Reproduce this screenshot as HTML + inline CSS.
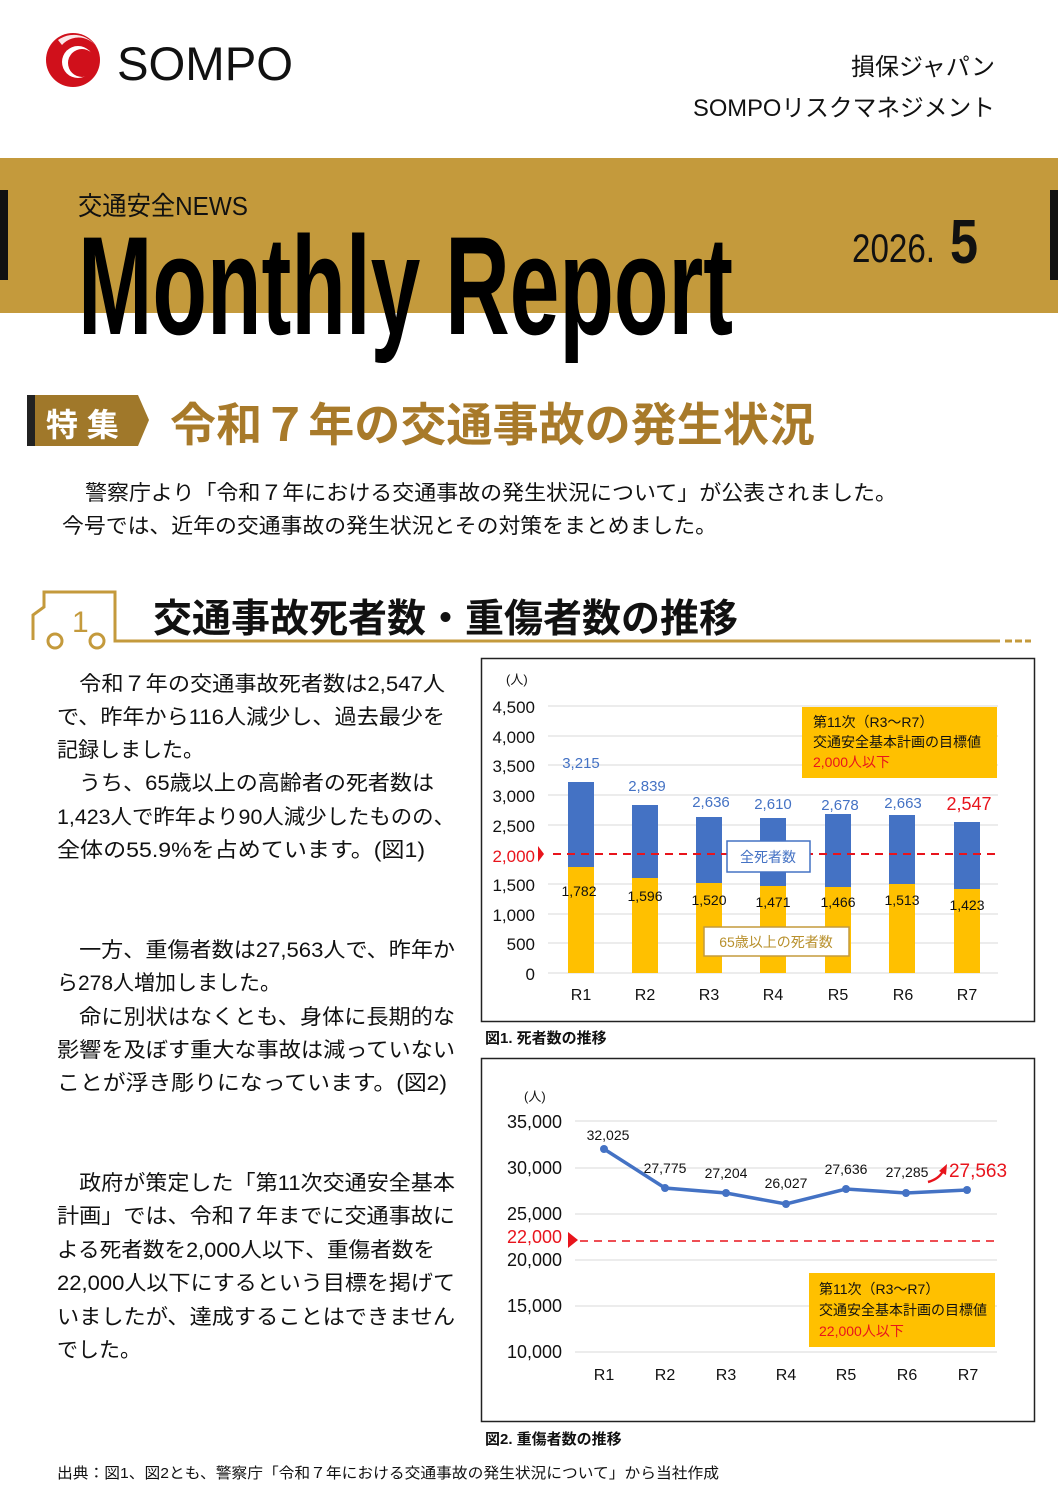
<!DOCTYPE html>
<html><head><meta charset="utf-8"><style>
html,body{margin:0;padding:0;background:#fff;}
svg{display:block;}
text{font-family:"Liberation Sans","Noto Sans CJK JP",sans-serif;}
</style></head><body>
<svg width="1058" height="1497" viewBox="0 0 1058 1497" xmlns="http://www.w3.org/2000/svg">
<!-- header -->
<circle cx="73" cy="60" r="27" fill="#d0101b"/>
<path d="M58 40 A27 27 0 0 1 100 55 A22 22 0 0 0 62 45 Z" fill="#fff" opacity="0.9"/>
<circle cx="78" cy="62" r="16" fill="#fff"/>
<circle cx="82" cy="63" r="14" fill="#d0101b"/>
<text x="117" y="80" font-size="47" fill="#111" textLength="176" lengthAdjust="spacingAndGlyphs">SOMPO</text>
<text x="995" y="75" font-size="24" text-anchor="end" fill="#111">損保ジャパン</text>
<text x="995" y="116" font-size="24" text-anchor="end" fill="#111" textLength="302" lengthAdjust="spacingAndGlyphs">SOMPOリスクマネジメント</text>
<rect x="0" y="158" width="1058" height="155" fill="#c49a3c"/>
<rect x="0" y="190" width="8" height="90" fill="#111"/>
<rect x="1050" y="190" width="8" height="90" fill="#111"/>
<text x="78" y="215" font-size="26" fill="#111" textLength="170" lengthAdjust="spacingAndGlyphs">交通安全NEWS</text>
<text x="78" y="334" font-size="140" font-weight="bold" fill="#000" textLength="655" lengthAdjust="spacingAndGlyphs">Monthly Report</text>
<text x="852" y="262" font-size="40" fill="#111" textLength="83" lengthAdjust="spacingAndGlyphs">2026.</text>
<text x="950" y="263" font-size="62" font-weight="bold" fill="#111" textLength="28" lengthAdjust="spacingAndGlyphs">5</text>
<!-- 特集 -->
<rect x="27" y="395" width="8" height="51" fill="#222"/>
<polygon points="35,395 138,395 149,420 138,446 35,446" fill="#a0782a"/>
<text x="46" y="436" font-size="32" font-weight="bold" fill="#fff">特 集</text>
<text x="170" y="441" font-size="46" font-weight="bold" fill="#a87a2a" textLength="645" lengthAdjust="spacingAndGlyphs">令和７年の交通事故の発生状況</text>
<text x="85" y="500" font-size="21" fill="#111" textLength="812" lengthAdjust="spacingAndGlyphs">警察庁より「令和７年における交通事故の発生状況について」が公表されました。</text>
<text x="62" y="533" font-size="21" fill="#111" textLength="655" lengthAdjust="spacingAndGlyphs">今号では、近年の交通事故の発生状況とその対策をまとめました。</text>
<!-- section heading -->
<path d="M33 640 L33 615 L44 607 L44 592 L115 592 L115 641 L1000 641" fill="none" stroke="#c49a3c" stroke-width="3"/>
<path d="M1005 641 h7 M1015 641 h7 M1025 641 h6" stroke="#c49a3c" stroke-width="3"/>
<text x="72" y="632" font-size="30" fill="#c49a3c">1</text>
<circle cx="55" cy="641" r="7" fill="none" stroke="#c49a3c" stroke-width="3"/>
<circle cx="97" cy="641" r="7" fill="none" stroke="#c49a3c" stroke-width="3"/>
<text x="153" y="632" font-size="39" font-weight="bold" fill="#111" textLength="585" lengthAdjust="spacingAndGlyphs">交通事故死者数・重傷者数の推移</text>
<!-- left text -->
<g font-size="21" fill="#111">
<text x="57" y="691" textLength="388" lengthAdjust="spacingAndGlyphs">　令和７年の交通事故死者数は2,547人</text>
<text x="57" y="724" textLength="388" lengthAdjust="spacingAndGlyphs">で、昨年から116人減少し、過去最少を</text>
<text x="57" y="757">記録しました。</text>
<text x="57" y="790" textLength="377" lengthAdjust="spacingAndGlyphs">　うち、65歳以上の高齢者の死者数は</text>
<text x="57" y="824" textLength="398" lengthAdjust="spacingAndGlyphs">1,423人で昨年より90人減少したものの、</text>
<text x="57" y="857" textLength="368" lengthAdjust="spacingAndGlyphs">全体の55.9%を占めています。(図1)</text>
<text x="57" y="957" textLength="398" lengthAdjust="spacingAndGlyphs">　一方、重傷者数は27,563人で、昨年か</text>
<text x="57" y="990">ら278人増加しました。</text>
<text x="57" y="1024" textLength="398" lengthAdjust="spacingAndGlyphs">　命に別状はなくとも、身体に長期的な</text>
<text x="57" y="1057" textLength="398" lengthAdjust="spacingAndGlyphs">影響を及ぼす重大な事故は減っていない</text>
<text x="57" y="1090" textLength="390" lengthAdjust="spacingAndGlyphs">ことが浮き彫りになっています。(図2)</text>
<text x="57" y="1190" textLength="398" lengthAdjust="spacingAndGlyphs">　政府が策定した「第11次交通安全基本</text>
<text x="57" y="1223" textLength="398" lengthAdjust="spacingAndGlyphs">計画」では、令和７年までに交通事故に</text>
<text x="57" y="1257" textLength="378" lengthAdjust="spacingAndGlyphs">よる死者数を2,000人以下、重傷者数を</text>
<text x="57" y="1290" textLength="398" lengthAdjust="spacingAndGlyphs">22,000人以下にするという目標を掲げて</text>
<text x="57" y="1324" textLength="398" lengthAdjust="spacingAndGlyphs">いましたが、達成することはできません</text>
<text x="57" y="1357">でした。</text>
</g>
<!-- chart 1 -->
<rect x="481.5" y="658.5" width="553" height="363" fill="#fff" stroke="#222" stroke-width="1.5"/>
<g stroke="#d9d9d9" stroke-width="1">
<line x1="548" x2="998" y1="706" y2="706"/><line x1="548" x2="998" y1="736" y2="736"/>
<line x1="548" x2="998" y1="765" y2="765"/><line x1="548" x2="998" y1="795" y2="795"/>
<line x1="548" x2="998" y1="825" y2="825"/><line x1="548" x2="998" y1="884" y2="884"/>
<line x1="548" x2="998" y1="914" y2="914"/><line x1="548" x2="998" y1="943" y2="943"/>
<line x1="548" x2="998" y1="973" y2="973"/>
</g>
<g font-size="17" fill="#111" text-anchor="end">
<text x="535" y="713">4,500</text><text x="535" y="743">4,000</text><text x="535" y="772">3,500</text>
<text x="535" y="802">3,000</text><text x="535" y="832">2,500</text><text x="535" y="862" fill="#e8141c">2,000</text>
<text x="535" y="891">1,500</text><text x="535" y="921">1,000</text><text x="535" y="950">500</text><text x="535" y="980">0</text>
</g>
<text x="506" y="684" font-size="13" fill="#111">(人)</text>
<polygon points="538,846 544,854 538,862" fill="#e8141c"/>
<g fill="#4472c4">
<rect x="568" y="782" width="26" height="85"/><rect x="632" y="805" width="26" height="73"/>
<rect x="696" y="817" width="26" height="66"/><rect x="760" y="818" width="26" height="68"/>
<rect x="825" y="814" width="26" height="73"/><rect x="889" y="815" width="26" height="69"/>
<rect x="954" y="822" width="26" height="67"/>
</g>
<g fill="#ffc000">
<rect x="568" y="867" width="26" height="106"/><rect x="632" y="878" width="26" height="95"/>
<rect x="696" y="883" width="26" height="90"/><rect x="760" y="886" width="26" height="87"/>
<rect x="825" y="887" width="26" height="86"/><rect x="889" y="884" width="26" height="89"/>
<rect x="954" y="889" width="26" height="84"/>
</g>
<line x1="553" x2="997" y1="854" y2="854" stroke="#e8141c" stroke-width="2" stroke-dasharray="8,6"/>
<g font-size="15" fill="#4472c4" text-anchor="middle">
<text x="581" y="768">3,215</text><text x="647" y="791">2,839</text><text x="711" y="807">2,636</text>
<text x="773" y="809">2,610</text><text x="840" y="810">2,678</text><text x="903" y="808">2,663</text>
<text x="969" y="810" fill="#e8141c" font-size="18">2,547</text>
</g>
<g font-size="14" fill="#111" text-anchor="middle">
<text x="579" y="896">1,782</text><text x="645" y="901">1,596</text><text x="709" y="905">1,520</text>
<text x="773" y="907">1,471</text><text x="838" y="907">1,466</text><text x="902" y="905">1,513</text>
<text x="967" y="910">1,423</text>
</g>
<rect x="727" y="841" width="83" height="31" fill="#fff" stroke="#4472c4" stroke-width="1.5"/>
<text x="768" y="862" font-size="14" fill="#4472c4" text-anchor="middle">全死者数</text>
<rect x="704" y="927" width="145" height="29" fill="#fff" stroke="#c49a3c" stroke-width="1.5"/>
<text x="776" y="947" font-size="14" fill="#b8902c" text-anchor="middle">65歳以上の死者数</text>
<rect x="802" y="707" width="195" height="71" fill="#ffc000"/>
<g font-size="14">
<text x="813" y="727" fill="#111">第11次（R3～R7）</text>
<text x="813" y="747" fill="#111">交通安全基本計画の目標値</text>
<text x="813" y="767" fill="#e8141c">2,000人以下</text>
</g>
<g font-size="16" fill="#111" text-anchor="middle">
<text x="581" y="1000">R1</text><text x="645" y="1000">R2</text><text x="709" y="1000">R3</text>
<text x="773" y="1000">R4</text><text x="838" y="1000">R5</text><text x="903" y="1000">R6</text><text x="967" y="1000">R7</text>
</g>
<text x="485" y="1043" font-size="15" font-weight="bold" fill="#111">図1. 死者数の推移</text>
<!-- chart 2 -->
<rect x="481.5" y="1058.5" width="553" height="363" fill="#fff" stroke="#222" stroke-width="1.5"/>
<g stroke="#d9d9d9" stroke-width="1">
<line x1="575" x2="997" y1="1121" y2="1121"/><line x1="575" x2="997" y1="1168" y2="1168"/>
<line x1="575" x2="997" y1="1214" y2="1214"/><line x1="575" x2="997" y1="1260" y2="1260"/>
<line x1="575" x2="997" y1="1306" y2="1306"/><line x1="575" x2="997" y1="1352" y2="1352"/>
</g>
<g font-size="18" fill="#111" text-anchor="end">
<text x="562" y="1128">35,000</text><text x="562" y="1174">30,000</text><text x="562" y="1220">25,000</text>
<text x="562" y="1243" fill="#e8141c">22,000</text>
<text x="562" y="1266">20,000</text><text x="562" y="1312">15,000</text><text x="562" y="1358">10,000</text>
</g>
<text x="524" y="1101" font-size="13" fill="#111">(人)</text>
<polygon points="568,1232 578,1240 568,1248" fill="#e8141c"/>
<line x1="580" x2="1000" y1="1241" y2="1241" stroke="#e8141c" stroke-width="1.5" stroke-dasharray="8,6"/>
<polyline points="604,1149 665,1188 726,1193 786,1204 846,1189 906,1193 967,1190" fill="none" stroke="#4472c4" stroke-width="3.5"/>
<g fill="#4472c4">
<circle cx="604" cy="1149" r="4"/><circle cx="665" cy="1188" r="4"/><circle cx="726" cy="1193" r="4"/>
<circle cx="786" cy="1204" r="4"/><circle cx="846" cy="1189" r="4"/><circle cx="906" cy="1193" r="4"/><circle cx="967" cy="1190" r="4"/>
</g>
<g font-size="14" fill="#111" text-anchor="middle">
<text x="608" y="1140">32,025</text><text x="665" y="1173">27,775</text><text x="726" y="1178">27,204</text>
<text x="786" y="1188">26,027</text><text x="846" y="1174">27,636</text><text x="907" y="1177">27,285</text>
</g>
<path d="M928 1182 Q939 1179 943 1171" fill="none" stroke="#e8141c" stroke-width="2.5"/>
<polygon points="939,1171 947,1164 946,1175" fill="#e8141c"/>
<text x="978" y="1177" font-size="19" fill="#e8141c" text-anchor="middle">27,563</text>
<rect x="809" y="1273" width="186" height="74" fill="#ffc000"/>
<g font-size="14">
<text x="819" y="1294" fill="#111">第11次（R3～R7）</text>
<text x="819" y="1315" fill="#111">交通安全基本計画の目標値</text>
<text x="819" y="1336" fill="#e8141c">22,000人以下</text>
</g>
<g font-size="16" fill="#111" text-anchor="middle">
<text x="604" y="1380">R1</text><text x="665" y="1380">R2</text><text x="726" y="1380">R3</text>
<text x="786" y="1380">R4</text><text x="846" y="1380">R5</text><text x="907" y="1380">R6</text><text x="968" y="1380">R7</text>
</g>
<text x="485" y="1444" font-size="15" font-weight="bold" fill="#111">図2. 重傷者数の推移</text>
<text x="57" y="1478" font-size="15" fill="#111" textLength="662" lengthAdjust="spacingAndGlyphs">出典：図1、図2とも、警察庁「令和７年における交通事故の発生状況について」から当社作成</text>
</svg>
</body></html>
